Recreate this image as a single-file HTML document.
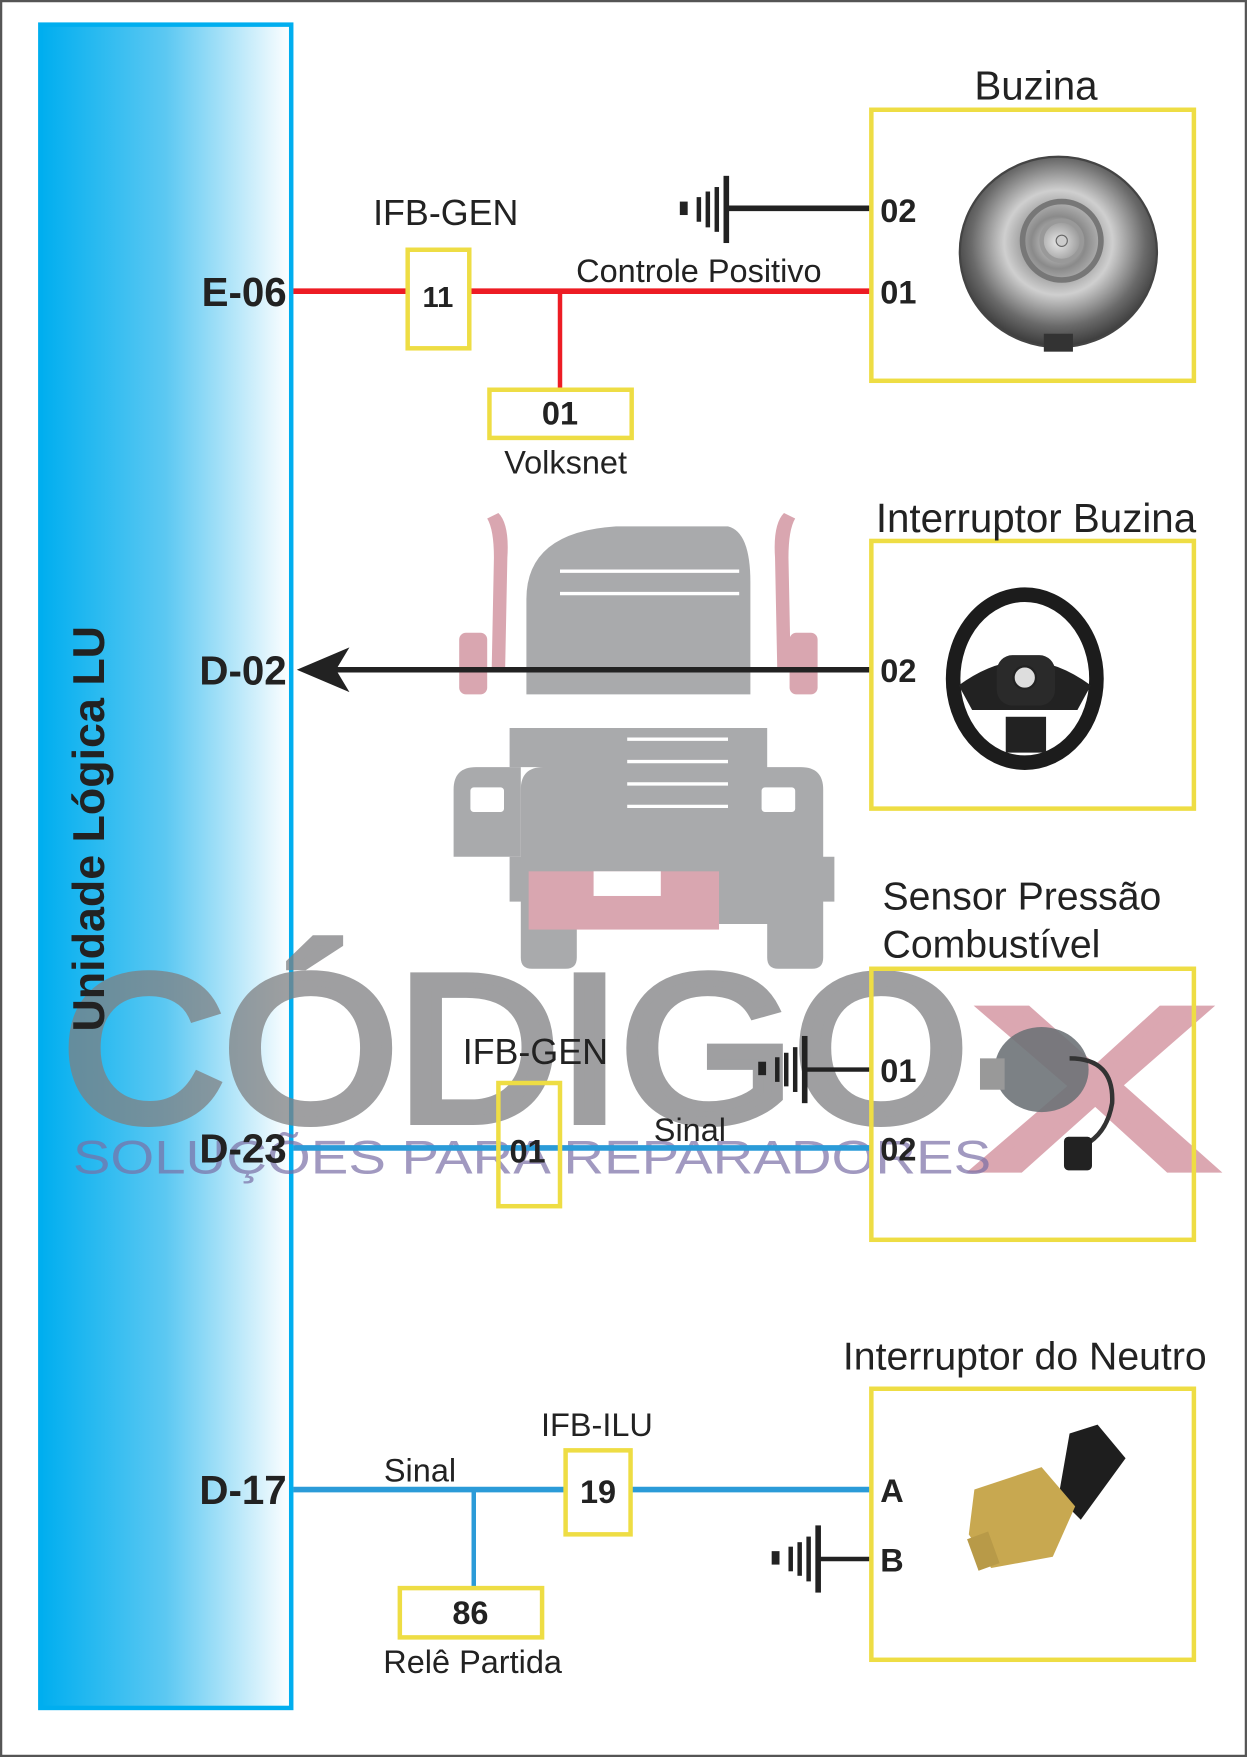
<!DOCTYPE html>
<html><head><meta charset="utf-8"><style>
html,body{margin:0;padding:0;background:#fff}
svg{display:block}
text{font-family:"Liberation Sans",sans-serif}
</style></head><body>
<svg width="1247" height="1757" viewBox="0 0 1113.4 1568.8" xmlns="http://www.w3.org/2000/svg">
<defs>
<linearGradient id="bar" x1="0" x2="1" y1="0" y2="0">
<stop offset="0" stop-color="#00aeef"/><stop offset="0.5" stop-color="#5cc8f2"/><stop offset="1" stop-color="#ffffff"/>
</linearGradient>
<radialGradient id="horn" cx="0.5" cy="0.45" r="0.55">
<stop offset="0" stop-color="#e8e8e8"/><stop offset="0.25" stop-color="#8a8a8a"/><stop offset="0.5" stop-color="#cfcfcf"/><stop offset="0.8" stop-color="#6a6a6a"/><stop offset="1" stop-color="#3a3a3a"/>
</radialGradient>
</defs>
<rect x="1" y="1" width="1111.4" height="1566.8" fill="#fff" stroke="#555" stroke-width="2"/>

<!-- truck watermark -->
<g>
<path d="M445 458 q10 10 8 40 l-2 100 h-12 l2-100 q0-25-6-35z" fill="#d9a6b0"/>
<path d="M700 458 q-10 10 -8 40 l2 100 h12 l-2-100 q0-25 6-35z" fill="#d9a6b0"/>
<rect x="410" y="565" width="25" height="55" rx="6" fill="#d9a6b0"/>
<rect x="705" y="565" width="25" height="55" rx="6" fill="#d9a6b0"/>
<path d="M470 535 q0-60 80-65 h100 q20 5 20 50 v100 h-200z" fill="#a9aaac"/>
<path d="M455 650 h230 v35 h30 q20 0 20 20 v60 h10 v40 h-10 v50 q0 10-10 10 h-30 q-10 0-10-10 v-30 h-170 v30 q0 10-10 10 h-30 q-10 0-10-10 v-50 h-10 v-40 h10 v-60 q0-20 20-20 h-30z" fill="#a9aaac"/>
<path d="M425 685 h40 v80 h-60 v-60 q0-20 20-20z" fill="#a9aaac"/>
<rect x="472" y="778" width="170" height="52" fill="#d9a6b0"/>
<rect x="530" y="778" width="60" height="22" fill="#fff"/>
<rect x="420" y="703" width="30" height="22" rx="3" fill="#fff"/>
<rect x="680" y="703" width="30" height="22" rx="3" fill="#fff"/>
<g stroke="#fff" stroke-width="3"><line x1="560" y1="660" x2="650" y2="660"/><line x1="560" y1="680" x2="650" y2="680"/><line x1="560" y1="700" x2="650" y2="700"/><line x1="560" y1="720" x2="650" y2="720"/><line x1="500" y1="510" x2="660" y2="510"/><line x1="500" y1="530" x2="660" y2="530"/></g>
</g>

<!-- blue bar -->
<rect x="36" y="22" width="224" height="1503" fill="url(#bar)" stroke="#00aeef" stroke-width="4"/>

<!-- CODIGO X watermark (over bar) -->
<g opacity="0.75">
<text x="56" y="1000" font-size="185" fill="#7f8082" stroke="#7f8082" stroke-width="9" textLength="808" lengthAdjust="spacingAndGlyphs">CÓDIGO</text>
</g>
<g opacity="0.75">
<text x="868" y="1043" font-size="205" fill="#d08a98" stroke="#d08a98" stroke-width="8" textLength="218" lengthAdjust="spacingAndGlyphs">X</text>
</g>
<text x="65" y="1048" font-size="42" fill="#7a6fa6" opacity="0.7" textLength="820" lengthAdjust="spacingAndGlyphs">SOLUÇÕES PARA REPARADORES</text>

<text transform="translate(93 740) rotate(-90)" text-anchor="middle" font-size="40" font-weight="bold" fill="#222">Unidade Lógica LU</text>

<!-- pin labels -->
<g font-size="36" font-weight="bold" fill="#222" text-anchor="end">
<text x="256" y="273">E-06</text><text x="256" y="611">D-02</text><text x="256" y="1038">D-23</text><text x="256" y="1343">D-17</text>
</g>

<!-- E-06 circuit -->
<line x1="262" y1="260" x2="778" y2="260" stroke="#ed1c24" stroke-width="5"/>
<line x1="500" y1="260" x2="500" y2="347" stroke="#ed1c24" stroke-width="4"/>
<rect x="364" y="223" width="55" height="88" fill="#fff" stroke="#eedd44" stroke-width="4"/>
<text x="391" y="274" font-size="26" font-weight="bold" fill="#222" text-anchor="middle">11</text>
<text x="398" y="201" font-size="32" fill="#222" text-anchor="middle">IFB-GEN</text>
<rect x="437" y="348" width="127" height="43" fill="#fff" stroke="#eedd44" stroke-width="4"/>
<text x="500" y="379" font-size="29" font-weight="bold" fill="#222" text-anchor="middle">01</text>
<text x="505" y="423" font-size="29" fill="#222" text-anchor="middle">Volksnet</text>
<text x="624" y="252" font-size="29" fill="#222" text-anchor="middle">Controle Positivo</text>

<g fill="#222">
<line x1="648" y1="186" x2="778" y2="186" stroke="#222" stroke-width="5"/>
<rect x="646" y="157" width="5" height="60"/><rect x="638" y="167" width="4" height="40"/><rect x="630" y="171" width="4" height="32"/><rect x="622" y="176" width="4" height="22"/><rect x="607" y="180" width="7" height="12"/>
</g>
<rect x="778" y="98" width="288" height="242" fill="#fff" stroke="#eedd44" stroke-width="4"/>
<text x="925" y="89" font-size="36" fill="#222" text-anchor="middle">Buzina</text>
<text x="786" y="198" font-size="29" font-weight="bold" fill="#222">02</text>
<text x="786" y="271" font-size="29" font-weight="bold" fill="#222">01</text>
<ellipse cx="945" cy="225" rx="88" ry="85" fill="url(#horn)" stroke="#444" stroke-width="2"/>
<circle cx="948" cy="215" r="35" fill="none" stroke="#777" stroke-width="5"/>
<circle cx="948" cy="215" r="18" fill="none" stroke="#999" stroke-width="4"/>
<circle cx="948" cy="215" r="5" fill="#ccc" stroke="#666"/>
<rect x="932" y="298" width="26" height="16" fill="#333"/>

<!-- D-02 -->
<line x1="300" y1="598" x2="778" y2="598" stroke="#222" stroke-width="5"/>
<path d="M265 598 L312 578 L300 598 L312 618 Z" fill="#222"/>
<rect x="778" y="483" width="288" height="239" fill="#fff" stroke="#eedd44" stroke-width="4"/>
<text x="925" y="475" font-size="36" fill="#222" text-anchor="middle">Interruptor Buzina</text>
<text x="786" y="609" font-size="29" font-weight="bold" fill="#222">02</text>
<ellipse cx="915" cy="606" rx="64" ry="75" fill="none" stroke="#1c1c1c" stroke-width="13"/>
<path d="M856 612 q30-22 59-22 q29 0 59 22 l-12 22 h-94z" fill="#222"/>
<rect x="890" y="585" width="52" height="45" rx="14" fill="#2a2a2a"/>
<circle cx="915" cy="605" r="10" fill="#ddd" stroke="#222" stroke-width="2"/>
<rect x="898" y="640" width="36" height="32" fill="#222"/>

<!-- D-23 -->
<line x1="262" y1="1025" x2="778" y2="1025" stroke="#2b9bd8" stroke-width="5"/>
<rect x="445" y="967" width="55" height="110" fill="none" stroke="#eedd44" stroke-width="4"/>
<text x="471" y="1038" font-size="29" font-weight="bold" fill="#222" text-anchor="middle">01</text>
<text x="478" y="950" font-size="32" fill="#222" text-anchor="middle">IFB-GEN</text>
<text x="616" y="1019" font-size="29" fill="#222" text-anchor="middle">Sinal</text>
<g fill="#222">
<line x1="718" y1="955" x2="778" y2="955" stroke="#222" stroke-width="4"/>
<rect x="716" y="925" width="5" height="60"/><rect x="708" y="935" width="4" height="40"/><rect x="700" y="940" width="4" height="30"/><rect x="692" y="944" width="4" height="22"/><rect x="677" y="948" width="7" height="12"/>
</g>
<rect x="778" y="865" width="288" height="242" fill="none" stroke="#eedd44" stroke-width="4"/>
<text x="788" y="812" font-size="35" fill="#222">Sensor Pressão</text>
<text x="788" y="855" font-size="35" fill="#222">Combustível</text>
<text x="786" y="966" font-size="29" font-weight="bold" fill="#222">01</text>
<text x="786" y="1036" font-size="29" font-weight="bold" fill="#222">02</text>
<ellipse cx="930" cy="955" rx="42" ry="38" fill="#6e7378" opacity="0.9"/>
<rect x="875" y="945" width="22" height="28" fill="#999"/>
<path d="M955 945 q40 0 38 40 q-5 30 -30 40" fill="none" stroke="#333" stroke-width="4"/>
<rect x="950" y="1015" width="25" height="30" rx="4" fill="#222"/>

<!-- D-17 -->
<line x1="262" y1="1330" x2="778" y2="1330" stroke="#2b9bd8" stroke-width="5"/>
<line x1="423" y1="1330" x2="423" y2="1418" stroke="#2b9bd8" stroke-width="4"/>
<rect x="505" y="1295" width="58" height="75" fill="#fff" stroke="#eedd44" stroke-width="4"/>
<text x="534" y="1342" font-size="29" font-weight="bold" fill="#222" text-anchor="middle">19</text>
<text x="533" y="1282" font-size="29" fill="#222" text-anchor="middle">IFB-ILU</text>
<text x="375" y="1323" font-size="29" fill="#222" text-anchor="middle">Sinal</text>
<rect x="357" y="1418" width="127" height="44" fill="#fff" stroke="#eedd44" stroke-width="4"/>
<text x="420" y="1450" font-size="29" font-weight="bold" fill="#222" text-anchor="middle">86</text>
<text x="422" y="1494" font-size="29" fill="#222" text-anchor="middle">Relê Partida</text>
<g fill="#222">
<line x1="730" y1="1392" x2="778" y2="1392" stroke="#222" stroke-width="4"/>
<rect x="728" y="1362" width="5" height="60"/><rect x="720" y="1372" width="4" height="40"/><rect x="712" y="1377" width="4" height="30"/><rect x="704" y="1381" width="4" height="22"/><rect x="689" y="1385" width="7" height="12"/>
</g>
<rect x="778" y="1240" width="288" height="242" fill="#fff" stroke="#eedd44" stroke-width="4"/>
<text x="915" y="1223" font-size="35" fill="#222" text-anchor="middle">Interruptor do Neutro</text>
<text x="786" y="1341" font-size="29" font-weight="bold" fill="#222">A</text>
<text x="786" y="1403" font-size="29" font-weight="bold" fill="#222">B</text>
<path d="M955 1280 l25 -8 l25 30 l-40 55 l-20 -20z" fill="#1e1e1e"/>
<path d="M870 1330 l60 -20 l30 35 l-20 45 l-55 10 l-20 -30z" fill="#c8a850"/>
<rect x="868" y="1370" width="20" height="30" fill="#b89a48" transform="rotate(-20 878 1385)"/>
</svg>
</body></html>
